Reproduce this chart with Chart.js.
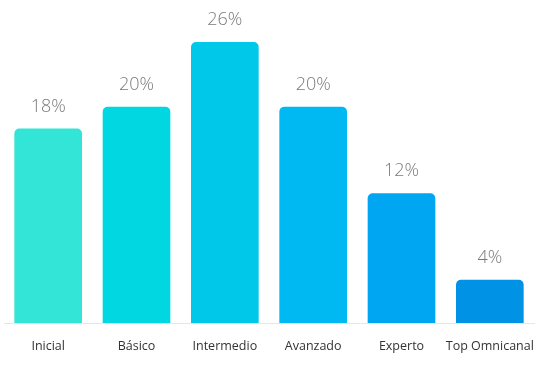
<!DOCTYPE html>
<html>
<head>
<meta charset="utf-8">
<script src="https://cdn.jsdelivr.net/npm/chart.js@4/dist/chart.umd.min.js"></script>
<style>
html,body{margin:0;padding:0;background:#fff;}
#wrap{width:543px;height:367px;position:relative;}
</style>
</head>
<body>
<div id="wrap"><canvas id="c" width="543" height="367"></canvas></div>
<script>
const categories = ["Inicial", "Básico", "Intermedio", "Avanzado", "Experto", "Top Omnicanal"];
const values = [18, 20, 26, 20, 12, 4];
const barColors = ["#33E5D6", "#00D7E0", "#00C8E8", "#00B9F2", "#00A6F2", "#0092E4"];

const valueLabels = {
  id: 'valueLabels',
  afterDatasetsDraw(chart) {
    const ctx = chart.ctx;
    const meta = chart.getDatasetMeta(0);
    ctx.save();
    ctx.font = '300 18px "Open Sans", sans-serif';
    ctx.fillStyle = '#7a7a7a';
    ctx.textAlign = 'center';
    ctx.textBaseline = 'middle';
    meta.data.forEach((bar, i) => {
      ctx.fillText(values[i] + '%', bar.x, bar.y - 22);
    });
    ctx.restore();
  }
};

new Chart(document.getElementById('c'), {
  type: 'bar',
  data: {
    labels: categories,
    datasets: [{
      data: values,
      backgroundColor: barColors,
      borderRadius: {topLeft: 5, topRight: 5, bottomLeft: 0, bottomRight: 0},
      borderSkipped: 'bottom',
      categoryPercentage: 1,
      barPercentage: 0.766
    }]
  },
  options: {
    responsive: false,
    animation: false,
    devicePixelRatio: 1,
    layout: {padding: {top: 42, left: 4, right: 9, bottom: 0}},
    plugins: {legend: {display: false}, tooltip: {enabled: false}},
    scales: {
      x: {
        grid: {display: false, drawTicks: false},
        border: {display: true, color: '#e6e6e6', width: 1},
        ticks: {padding: 16, color: '#333', font: {family: '"Open Sans", sans-serif', size: 12.5}, maxRotation: 0, autoSkip: false},
        afterFit(scale) { scale.height = 44; scale.paddingLeft = 0; scale.paddingRight = 0; }
      },
      y: {
        display: false,
        min: 0,
        max: 26
      }
    }
  },
  plugins: [valueLabels]
});
</script>
</body>
</html>
